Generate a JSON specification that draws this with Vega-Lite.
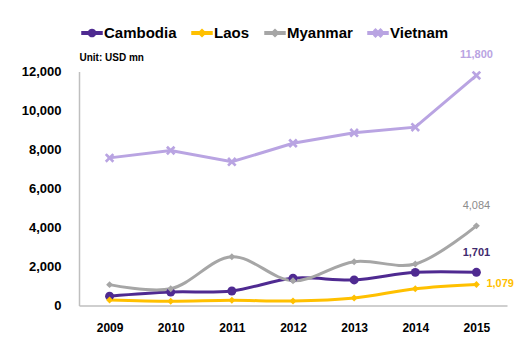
{
  "$schema": "https://vega.github.io/schema/vega-lite/v6.json",
  "width": 428,
  "height": 234,
  "autosize": {"type": "none"},
  "padding": {"left": 79, "top": 71.5, "right": 15, "bottom": 41.5},
  "background": "white",
  "config": {
    "font": "Liberation Sans",
    "view": {"stroke": null}
  },
  "data": {
    "values": [
      {"year": 2009, "country": "Cambodia", "value": 480},
      {"year": 2010, "country": "Cambodia", "value": 690},
      {"year": 2011, "country": "Cambodia", "value": 745},
      {"year": 2012, "country": "Cambodia", "value": 1400},
      {"year": 2013, "country": "Cambodia", "value": 1310},
      {"year": 2014, "country": "Cambodia", "value": 1700},
      {"year": 2015, "country": "Cambodia", "value": 1701},
      {"year": 2009, "country": "Laos", "value": 280},
      {"year": 2010, "country": "Laos", "value": 215},
      {"year": 2011, "country": "Laos", "value": 265},
      {"year": 2012, "country": "Laos", "value": 230},
      {"year": 2013, "country": "Laos", "value": 385},
      {"year": 2014, "country": "Laos", "value": 860},
      {"year": 2015, "country": "Laos", "value": 1079},
      {"year": 2009, "country": "Myanmar", "value": 1070},
      {"year": 2010, "country": "Myanmar", "value": 860},
      {"year": 2011, "country": "Myanmar", "value": 2500},
      {"year": 2012, "country": "Myanmar", "value": 1270},
      {"year": 2013, "country": "Myanmar", "value": 2245},
      {"year": 2014, "country": "Myanmar", "value": 2130},
      {"year": 2015, "country": "Myanmar", "value": 4084},
      {"year": 2009, "country": "Vietnam", "value": 7570},
      {"year": 2010, "country": "Vietnam", "value": 7950},
      {"year": 2011, "country": "Vietnam", "value": 7370},
      {"year": 2012, "country": "Vietnam", "value": 8320},
      {"year": 2013, "country": "Vietnam", "value": 8855},
      {"year": 2014, "country": "Vietnam", "value": 9145},
      {"year": 2015, "country": "Vietnam", "value": 11800}
    ]
  },
  "encoding": {
    "x": {
      "field": "year",
      "type": "ordinal",
      "scale": {"type": "point", "padding": 0.5},
      "axis": {
        "title": null,
        "labelAngle": 0,
        "labelFont": "Liberation Sans",
        "labelFontSize": 12,
        "labelFontWeight": "bold",
        "labelColor": "#000000",
        "labelPadding": 17,
        "ticks": false,
        "domainColor": "#BFBFBF",
        "domainWidth": 1.5,
        "grid": false
      }
    },
    "y": {
      "field": "value",
      "type": "quantitative",
      "scale": {"domain": [0, 12000], "nice": false},
      "axis": {
        "title": "Unit: USD mn",
        "titleAngle": 0,
        "titleX": 0,
        "titleY": -9,
        "titleAlign": "left",
        "titleBaseline": "bottom",
        "titleFont": "Liberation Sans",
        "titleFontSize": 10,
        "titleFontWeight": "bold",
        "titleColor": "#000000",
        "values": [0, 2000, 4000, 6000, 8000, 10000, 12000],
        "format": ",d",
        "labelFont": "Liberation Sans",
        "labelFontSize": 13,
        "labelFontWeight": "bold",
        "labelColor": "#000000",
        "labelPadding": 18,
        "ticks": false,
        "domainColor": "#BFBFBF",
        "domainWidth": 1.5,
        "grid": false
      }
    }
  },
  "layer": [
    {
      "transform": [{"filter": "false"}],
      "mark": {"type": "point", "filled": true, "opacity": 1},
      "encoding": {
        "color": {
          "field": "country",
          "type": "nominal",
          "scale": {
            "domain": ["Cambodia", "Laos", "Myanmar", "Vietnam"],
            "range": ["#4F2A91", "#FFC000", "#A6A6A6", "#B9A4E2"]
          },
          "legend": {
            "title": null,
            "orient": "none",
            "direction": "horizontal",
            "legendX": 2,
            "legendY": -49.5,
            "padding": 0,
            "symbolSize": 400,
            "symbolOpacity": 1,
            "labelOffset": 1,
            "columnPadding": 12,
            "labelFont": "Liberation Sans",
            "labelFontSize": 15,
            "labelFontWeight": "bold",
            "labelColor": "#000000"
          }
        },
        "shape": {
          "field": "country",
          "type": "nominal",
          "scale": {
            "domain": ["Cambodia", "Laos", "Myanmar", "Vietnam"],
            "range": [
              "M-1,-0.12L-0.33,-0.12A0.35,0.35 0 0,1 0.33,-0.12L1,-0.12L1,0.12L0.33,0.12A0.35,0.35 0 0,1 -0.33,0.12L-1,0.12Z",
              "M-1,-0.12L-0.23,-0.12L0,-0.35L0.23,-0.12L1,-0.12L1,0.12L0.23,0.12L0,0.35L-0.23,0.12L-1,0.12Z",
              "M-1,-0.12L-0.23,-0.12L0,-0.35L0.23,-0.12L1,-0.12L1,0.12L0.23,0.12L0,0.35L-0.23,0.12L-1,0.12Z",
              "M-1,-0.12L-0.27,-0.12L-0.4,-0.25L-0.25,-0.4L0,-0.15L0.25,-0.4L0.4,-0.25L0.27,-0.12L1,-0.12L1,0.12L0.27,0.12L0.4,0.25L0.25,0.4L0,0.15L-0.25,0.4L-0.4,0.25L-0.27,0.12L-1,0.12Z"
            ]
          },
          "legend": {
            "title": null,
            "orient": "none",
            "direction": "horizontal",
            "legendX": 2,
            "legendY": -49.5,
            "padding": 0,
            "symbolSize": 400,
            "symbolOpacity": 1,
            "labelOffset": 1,
            "columnPadding": 12,
            "labelFont": "Liberation Sans",
            "labelFontSize": 15,
            "labelFontWeight": "bold",
            "labelColor": "#000000"
          }
        }
      }
    },
    {
      "transform": [{"filter": "datum.country !== 'Vietnam'"}],
      "mark": {"type": "line", "interpolate": "catmull-rom", "strokeWidth": 3},
      "encoding": {
        "color": {"field": "country", "type": "nominal", "legend": null}
      }
    },
    {
      "transform": [{"filter": "datum.country === 'Vietnam'"}],
      "mark": {"type": "line", "strokeWidth": 3},
      "encoding": {
        "color": {"field": "country", "type": "nominal", "legend": null}
      }
    },
    {
      "transform": [{"filter": "datum.country === 'Cambodia'"}],
      "mark": {"type": "point", "shape": "circle", "size": 80, "filled": true, "opacity": 1},
      "encoding": {
        "color": {"field": "country", "type": "nominal", "legend": null}
      }
    },
    {
      "transform": [{"filter": "datum.country === 'Laos' || datum.country === 'Myanmar'"}],
      "mark": {"type": "point", "shape": "diamond", "size": 48, "filled": true, "opacity": 1},
      "encoding": {
        "color": {"field": "country", "type": "nominal", "legend": null}
      }
    },
    {
      "transform": [{"filter": "datum.country === 'Vietnam'"}],
      "mark": {"type": "point", "shape": "M-1,-0.6L-0.6,-1L0,-0.4L0.6,-1L1,-0.6L0.4,0L1,0.6L0.6,1L0,0.4L-0.6,1L-1,0.6L-0.4,0Z", "size": 90, "filled": true, "opacity": 1},
      "encoding": {
        "color": {"field": "country", "type": "nominal", "legend": null}
      }
    },
    {
      "transform": [{"filter": "datum.year === 2015 && datum.country === 'Vietnam'"}],
      "mark": {"type": "text", "dy": -20, "fontSize": 11, "fontWeight": "bold", "color": "#B9A4E2"},
      "encoding": {"text": {"field": "value", "type": "quantitative", "format": ","}}
    },
    {
      "transform": [{"filter": "datum.year === 2015 && datum.country === 'Myanmar'"}],
      "mark": {"type": "text", "dy": -20, "fontSize": 11, "color": "#8C8C8C"},
      "encoding": {"text": {"field": "value", "type": "quantitative", "format": ","}}
    },
    {
      "transform": [{"filter": "datum.year === 2015 && datum.country === 'Cambodia'"}],
      "mark": {"type": "text", "dy": -19, "fontSize": 11, "fontWeight": "bold", "color": "#3F2A6E"},
      "encoding": {"text": {"field": "value", "type": "quantitative", "format": ","}}
    },
    {
      "transform": [{"filter": "datum.year === 2015 && datum.country === 'Laos'"}],
      "mark": {"type": "text", "align": "left", "dx": 10, "fontSize": 11, "fontWeight": "bold", "color": "#FFC000"},
      "encoding": {"text": {"field": "value", "type": "quantitative", "format": ","}}
    }
  ]
}
